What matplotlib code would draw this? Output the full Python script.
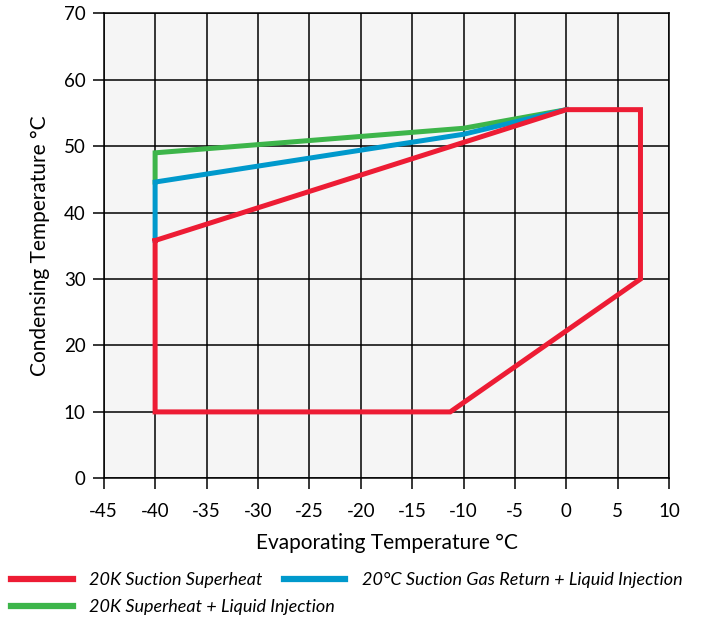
import matplotlib
matplotlib.use("Agg")
import matplotlib.pyplot as plt

plt.rcParams['font.family'] = ['Lato', 'DejaVu Sans']
plt.rcParams['axes.unicode_minus'] = False

# envelope data (evaporating temp, condensing temp)
red_x = [-40, -40, -11.3, 7.2, 7.2, 0, -40]
red_y = [35.8, 10, 10, 30, 55.5, 55.5, 35.8]
blue_x = [-40, -40, -10, 0]
blue_y = [35.8, 44.6, 51.8, 55.5]
green_x = [-40, -40, -10, 0]
green_y = [44.6, 49, 52.7, 55.5]

xticks = list(range(-45, 11, 5))
yticks = list(range(0, 71, 10))

fig = plt.figure(figsize=(7.03, 6.2), dpi=100)
ax = fig.add_axes([0.1475, 0.2285, 0.8045, 0.75])
ax.set_facecolor("#f5f5f5")

g, = ax.plot(green_x, green_y, color="#3db54a", lw=3.6, solid_joinstyle="miter", zorder=3)
b, = ax.plot(blue_x, blue_y, color="#0099cc", lw=3.6, solid_joinstyle="miter", zorder=4)
r, = ax.plot(red_x, red_y, color="#ed1c34", lw=3.6, solid_joinstyle="miter", zorder=5)

ax.set_xlim(-45, 10)
ax.set_ylim(0, 70)
ax.set_xticks(xticks)
ax.set_yticks(yticks)
ax.grid(True, color="black", lw=1.1)
ax.set_axisbelow(True)
for s in ax.spines.values():
    s.set_color("black")
    s.set_linewidth(1.1)
ax.tick_params(direction="out", length=8, width=1.1, labelsize=13.5, colors="black")
ax.tick_params(axis="x", pad=10)
ax.tick_params(axis="y", pad=5)

ax.set_xlabel("Evaporating Temperature °C", fontsize=15, labelpad=9)
ax.set_ylabel("Condensing Temperature °C", fontsize=15, labelpad=10)

leg_font = {"style": "italic", "size": 13}
leg1 = fig.legend([r, b], ["20K Suction Superheat", "20°C Suction Gas Return + Liquid Injection"],
                  ncol=2, loc="center left", bbox_to_anchor=(0.016, 0.0645), frameon=False,
                  prop=leg_font, handlelength=3.4, handletextpad=0.9, columnspacing=1.2,
                  borderaxespad=0, borderpad=0.0)
leg2 = fig.legend([g], ["20K Superheat + Liquid Injection"],
                  loc="center left", bbox_to_anchor=(0.016, 0.021), frameon=False,
                  prop=leg_font, handlelength=3.4, handletextpad=0.9,
                  borderaxespad=0, borderpad=0.0)
for lg in (leg1, leg2):
    for ln in lg.get_lines():
        ln.set_linewidth(4.5)

fig.savefig("out.png", dpi=100)
